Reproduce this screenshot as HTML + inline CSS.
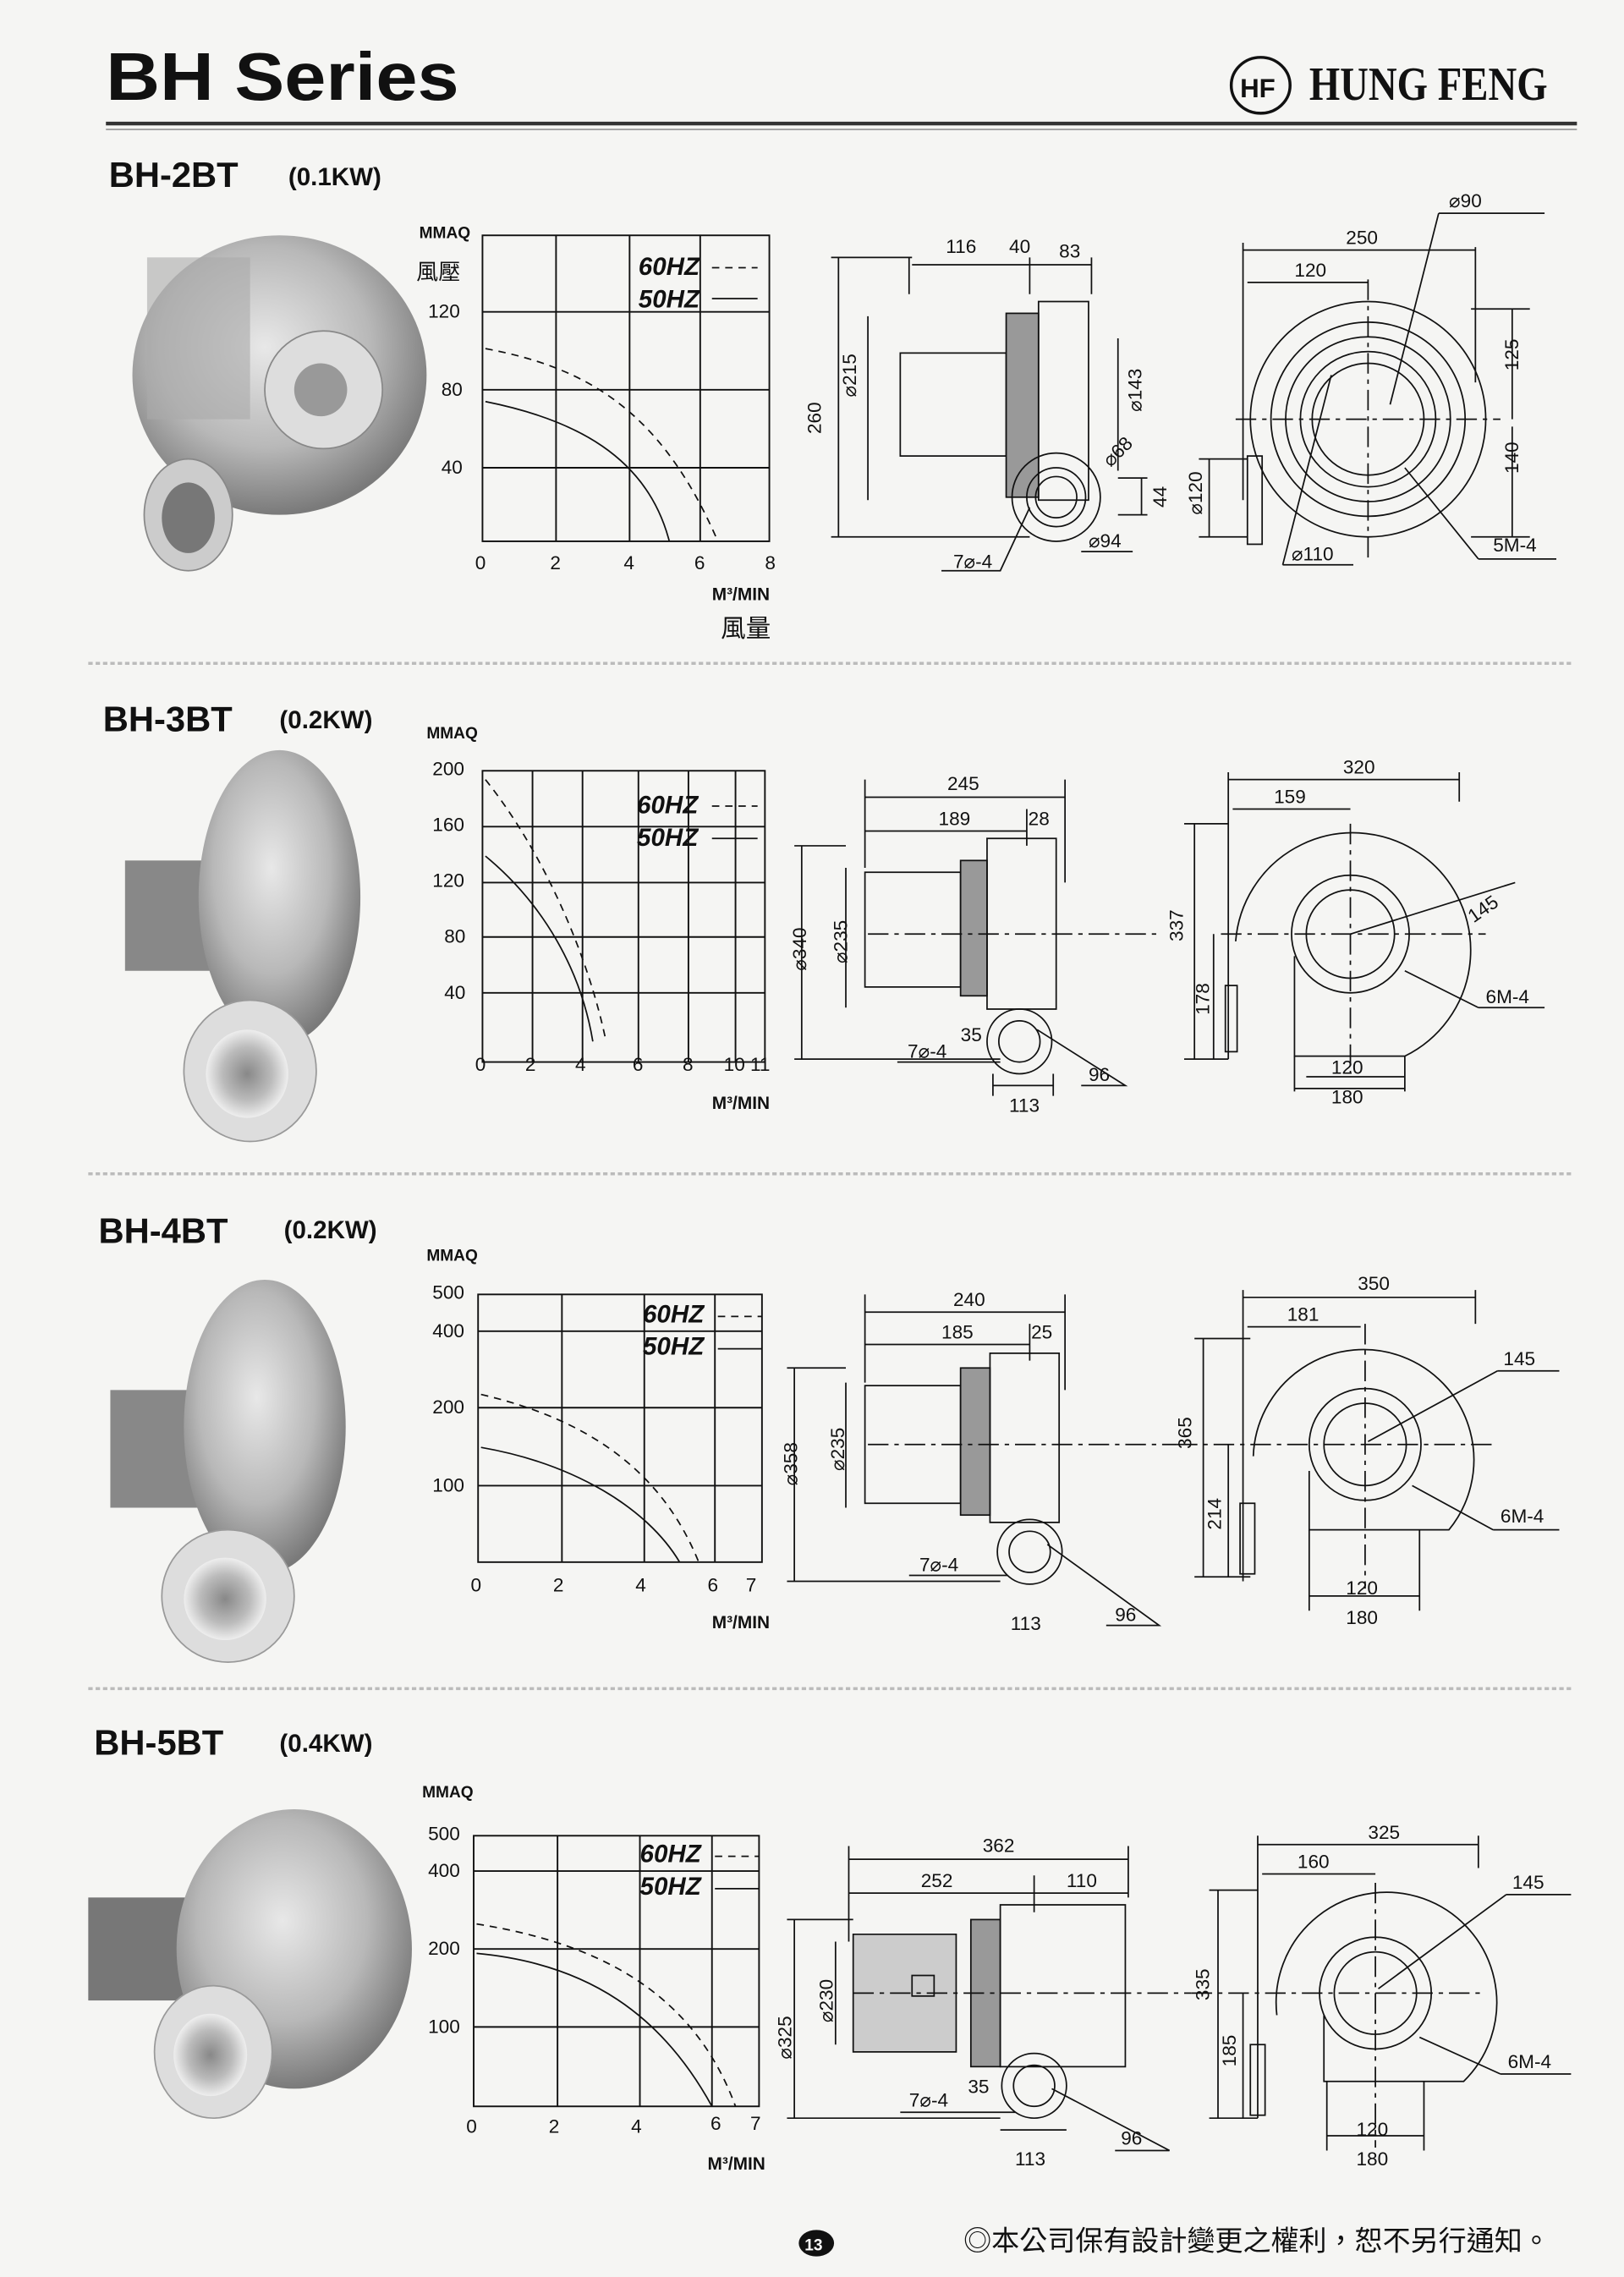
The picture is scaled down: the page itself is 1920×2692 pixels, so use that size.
<!DOCTYPE html>
<html><head><meta charset="utf-8"><style>
html,body{margin:0;padding:0;background:#f5f5f3;}
svg{display:block}
text{font-family:"Liberation Sans","Noto Sans CJK TC",sans-serif;fill:#111}
.t{font-size:13px}
.d{stroke:#111;stroke-width:1;fill:none}
.g{stroke:#111;stroke-width:1.1;fill:none}
.dash{stroke:#111;stroke-width:1;stroke-dasharray:5 4;fill:none}
.c{stroke:#111;stroke-width:1;stroke-dasharray:14 4 3 4;fill:none}
</style></head><body>
<svg width="1920" height="2692" viewBox="0 0 1104 1548" preserveAspectRatio="none" xmlns="http://www.w3.org/2000/svg">
<defs>
<radialGradient id="ph" cx="45%" cy="40%" r="60%"><stop offset="0" stop-color="#e8e8e8"/><stop offset=".6" stop-color="#b8b8b8"/><stop offset="1" stop-color="#7a7a7a"/></radialGradient>
<radialGradient id="ph2" cx="50%" cy="50%" r="50%"><stop offset="0" stop-color="#888"/><stop offset=".6" stop-color="#bbb"/><stop offset="1" stop-color="#eee"/></radialGradient>
</defs>
<rect width="1104" height="1548" fill="#f5f5f3"/>
<!-- header -->
<text x="72" y="68" textLength="240" lengthAdjust="spacingAndGlyphs" style="font-size:46px;font-weight:bold">BH Series</text>
<ellipse cx="857" cy="58" rx="20" ry="19" fill="none" stroke="#111" stroke-width="2"/>
<text x="843" y="66" style="font-size:18px;font-weight:bold">HF</text>
<text x="890" y="68" textLength="162" lengthAdjust="spacingAndGlyphs" style="font-size:32px;font-weight:bold;font-family:'Liberation Serif',serif">HUNG FENG</text>
<line x1="72" y1="84" x2="1072" y2="84" stroke="#333" stroke-width="2.5"/>
<line x1="72" y1="88" x2="1072" y2="88" stroke="#999" stroke-width="1"/>
<line x1="60" y1="451" x2="1068" y2="451" stroke="#bbb" stroke-width="2" stroke-dasharray="3 2"/>
<line x1="60" y1="798" x2="1068" y2="798" stroke="#bbb" stroke-width="2" stroke-dasharray="3 2"/>
<line x1="60" y1="1148" x2="1068" y2="1148" stroke="#bbb" stroke-width="2" stroke-dasharray="3 2"/>

<!-- Section titles -->
<text x="74" y="127" style="font-size:24px;font-weight:bold">BH-2BT</text><text x="196" y="126" style="font-size:17px;font-weight:bold">(0.1KW)</text>
<text x="70" y="497" style="font-size:24px;font-weight:bold">BH-3BT</text><text x="190" y="495" style="font-size:17px;font-weight:bold">(0.2KW)</text>
<text x="67" y="845" style="font-size:24px;font-weight:bold">BH-4BT</text><text x="193" y="842" style="font-size:17px;font-weight:bold">(0.2KW)</text>
<text x="64" y="1193" style="font-size:24px;font-weight:bold">BH-5BT</text><text x="190" y="1191" style="font-size:17px;font-weight:bold">(0.4KW)</text>

<!-- Photos -->
<g>
<ellipse cx="190" cy="255" rx="100" ry="95" fill="url(#ph)"/>
<rect x="100" y="175" width="70" height="110" fill="#aaa" opacity=".6"/>
<circle cx="220" cy="265" r="40" fill="#ddd" stroke="#888"/><circle cx="218" cy="265" r="18" fill="#999"/>
<ellipse cx="128" cy="350" rx="30" ry="38" fill="#ccc" stroke="#888"/><ellipse cx="128" cy="352" rx="18" ry="24" fill="#777"/>
</g>
<g>
<rect x="85" y="585" width="70" height="75" fill="#888"/>
<ellipse cx="190" cy="610" rx="55" ry="100" fill="url(#ph)"/>
<ellipse cx="170" cy="728" rx="45" ry="48" fill="#ddd" stroke="#999"/><ellipse cx="168" cy="730" rx="28" ry="30" fill="url(#ph2)"/>
</g>
<g>
<rect x="75" y="945" width="70" height="80" fill="#888"/>
<ellipse cx="180" cy="970" rx="55" ry="100" fill="url(#ph)"/>
<ellipse cx="155" cy="1085" rx="45" ry="45" fill="#ddd" stroke="#999"/><ellipse cx="153" cy="1087" rx="28" ry="28" fill="url(#ph2)"/>
</g>
<g>
<rect x="60" y="1290" width="80" height="70" fill="#777"/>
<ellipse cx="200" cy="1325" rx="80" ry="95" fill="url(#ph)"/>
<ellipse cx="145" cy="1395" rx="40" ry="45" fill="#ddd" stroke="#999"/><ellipse cx="143" cy="1397" rx="25" ry="28" fill="url(#ph2)"/>
</g>

<!-- Chart 1 -->
<g class="t">
<text x="285" y="162" style="font-size:11px;font-weight:bold">MMAQ</text>
<text x="283" y="190" style="font-size:15px">風壓</text>
<rect x="328" y="160" width="195" height="208" class="g"/>
<path d="M378 160V368M428 160V368M476 160V368M328 212H523M328 265H523M328 318H523" class="g"/>
<text x="291" y="216">120</text><text x="300" y="269">80</text><text x="300" y="322">40</text>
<text x="323" y="387">0</text><text x="374" y="387">2</text><text x="424" y="387">4</text><text x="472" y="387">6</text><text x="520" y="387">8</text>
<text x="484" y="408" style="font-size:12px;font-weight:bold">M³/MIN</text>
<text x="490" y="433" style="font-size:17px">風量</text>
<text x="434" y="187" style="font-size:17px;font-style:italic;font-weight:bold">60HZ</text><line x1="484" y1="182" x2="515" y2="182" class="dash"/>
<text x="434" y="209" style="font-size:17px;font-style:italic;font-weight:bold">50HZ</text><line x1="484" y1="203" x2="515" y2="203" class="d"/>
<path d="M330 237 C400 250 450 280 488 368" class="dash"/>
<path d="M330 273 C390 285 440 310 455 368" class="d"/>
</g>
<!-- Chart 2 -->
<g class="t">
<text x="290" y="502" style="font-size:11px;font-weight:bold">MMAQ</text>
<rect x="328" y="524" width="192" height="198" class="g"/>
<path d="M362 524V722M396 524V722M434 524V722M468 524V722M500 524V722M328 562H520M328 600H520M328 637H520M328 675H520" class="g"/>
<text x="294" y="527">200</text><text x="294" y="565">160</text><text x="294" y="603">120</text><text x="302" y="641">80</text><text x="302" y="679">40</text>
<text x="323" y="728">0</text><text x="357" y="728">2</text><text x="391" y="728">4</text><text x="430" y="728">6</text><text x="464" y="728">8</text><text x="492" y="728">10 11</text>
<text x="484" y="754" style="font-size:12px;font-weight:bold">M³/MIN</text>
<text x="433" y="553" style="font-size:17px;font-style:italic;font-weight:bold">60HZ</text><line x1="484" y1="548" x2="515" y2="548" class="dash"/>
<text x="433" y="575" style="font-size:17px;font-style:italic;font-weight:bold">50HZ</text><line x1="484" y1="570" x2="515" y2="570" class="d"/>
<path d="M330 530 C370 580 400 650 412 708" class="dash"/>
<path d="M330 582 C370 615 395 660 403 708" class="d"/>
</g>
<!-- Chart 3 -->
<g class="t">
<text x="290" y="857" style="font-size:11px;font-weight:bold">MMAQ</text>
<rect x="325" y="880" width="193" height="182" class="g"/>
<path d="M382 880V1062M438 880V1062M486 880V1062M325 905H518M325 957H518M325 1010H518" class="g"/>
<text x="294" y="883">500</text><text x="294" y="909">400</text><text x="294" y="961">200</text><text x="294" y="1014">100</text>
<text x="320" y="1082">0</text><text x="376" y="1082">2</text><text x="432" y="1082">4</text><text x="481" y="1082">6</text><text x="507" y="1082">7</text>
<text x="484" y="1107" style="font-size:12px;font-weight:bold">M³/MIN</text>
<text x="437" y="899" style="font-size:17px;font-style:italic;font-weight:bold">60HZ</text><line x1="488" y1="895" x2="518" y2="895" class="dash"/>
<text x="437" y="921" style="font-size:17px;font-style:italic;font-weight:bold">50HZ</text><line x1="488" y1="917" x2="518" y2="917" class="d"/>
<path d="M327 948 C400 965 450 1000 475 1062" class="dash"/>
<path d="M327 984 C390 995 440 1025 462 1062" class="d"/>
</g>
<!-- Chart 4 -->
<g class="t">
<text x="287" y="1222" style="font-size:11px;font-weight:bold">MMAQ</text>
<rect x="322" y="1248" width="194" height="184" class="g"/>
<path d="M379 1248V1432M435 1248V1432M484 1248V1432M322 1272H516M322 1325H516M322 1378H516" class="g"/>
<text x="291" y="1251">500</text><text x="291" y="1276">400</text><text x="291" y="1329">200</text><text x="291" y="1382">100</text>
<text x="317" y="1450">0</text><text x="373" y="1450">2</text><text x="429" y="1450">4</text><text x="483" y="1448">6</text><text x="510" y="1448">7</text>
<text x="481" y="1475" style="font-size:12px;font-weight:bold">M³/MIN</text>
<text x="435" y="1266" style="font-size:17px;font-style:italic;font-weight:bold">60HZ</text><line x1="486" y1="1262" x2="516" y2="1262" class="dash"/>
<text x="435" y="1288" style="font-size:17px;font-style:italic;font-weight:bold">50HZ</text><line x1="486" y1="1284" x2="516" y2="1284" class="d"/>
<path d="M324 1308 C400 1320 470 1350 500 1432" class="dash"/>
<path d="M324 1328 C400 1335 450 1370 484 1432" class="d"/>
</g>

<!-- Side drawings -->
<g class="t">
<path d="M565 175H620M565 365H700M618 175V200M700 175V200M742 175V200" class="d"/>
<path d="M620 180H700M700 180H742M704 180H742" class="d"/>
<text x="643" y="172">116</text><text x="686" y="172">40</text><text x="720" y="175">83</text>
<path d="M570 175V365" class="d"/><text x="558" y="295" transform="rotate(-90 558 295)">260</text>
<path d="M590 215V340" class="d"/><text x="582" y="270" transform="rotate(-90 582 270)">⌀215</text>
<rect x="612" y="240" width="72" height="70" class="d"/>
<rect x="684" y="213" width="22" height="125" fill="#999" stroke="#111"/>
<path d="M706 205H740V340H706Z" class="d"/>
<circle cx="718" cy="338" r="30" class="d"/><circle cx="718" cy="338" r="20" class="d"/><circle cx="718" cy="338" r="14" class="d"/>
<path d="M760 230V320M760 325H780M760 350H780M776 325V350" class="d"/>
<text x="776" y="280" transform="rotate(-90 776 280)">⌀143</text>
<text x="755" y="318" transform="rotate(-45 755 318)">⌀68</text>
<text x="793" y="345" transform="rotate(-90 793 345)">44</text>
<text x="740" y="372">⌀94</text><path d="M735 375H770" class="d"/>
<text x="648" y="386">7⌀-4</text><path d="M640 388H680L700 345" class="d"/>
<text x="985" y="141">⌀90</text><path d="M978 145H1050M978 145L945 275" class="d"/>
<text x="915" y="166">250</text><path d="M845 170H1003M845 165V340M1003 168V260" class="d"/>
<text x="880" y="188">120</text><path d="M848 192H930" class="d"/>
<circle cx="930" cy="285" r="80" class="d"/><circle cx="930" cy="285" r="66" class="d"/><circle cx="930" cy="285" r="56" class="d"/><circle cx="930" cy="285" r="46" class="d"/><circle cx="930" cy="285" r="38" class="d"/>
<path d="M840 285H1020M930 190V380" class="c"/>
<path d="M1028 210V285M1028 290V365M1000 210H1040M1000 365H1040" class="d"/>
<text x="1032" y="252" transform="rotate(-90 1032 252)">125</text><text x="1032" y="322" transform="rotate(-90 1032 322)">140</text>
<rect x="848" y="310" width="10" height="60" class="d"/><path d="M822 312V365M815 312H848M815 365H848" class="d"/>
<text x="817" y="350" transform="rotate(-90 817 350)">⌀120</text>
<text x="878" y="381">⌀110</text><path d="M872 384H920M872 384L905 255" class="d"/>
<text x="1015" y="375">5M-4</text><path d="M1005 380H1058M1005 380L955 318" class="d"/>

<text x="644" y="537">245</text><path d="M588 542H724M588 530V590M724 530V600" class="d"/>
<text x="638" y="561">189</text><path d="M588 565H698M698 550V575" class="d"/><text x="699" y="561">28</text>
<path d="M545 575V720M540 575H575M540 720H680" class="d"/><text x="548" y="660" transform="rotate(-90 548 660)">⌀340</text>
<path d="M575 590V685" class="d"/><text x="576" y="655" transform="rotate(-90 576 655)">⌀235</text>
<rect x="588" y="593" width="65" height="78" class="d"/><rect x="653" y="585" width="18" height="92" fill="#999" stroke="#111"/>
<path d="M671 570H718V686H671Z" class="d"/>
<path d="M590 635H790" class="c"/>
<circle cx="693" cy="708" r="22" class="d"/><circle cx="693" cy="708" r="14" class="d"/>
<text x="653" y="708">35</text><text x="617" y="719">7⌀-4</text><path d="M610 722H680" class="d"/>
<path d="M675 738H716M675 730V745M716 730V745" class="d"/><text x="686" y="756">113</text>
<text x="740" y="735">96</text><path d="M735 738H765L705 700" class="d"/>
<text x="913" y="526">320</text><path d="M835 530H992M835 525V720M992 525V545" class="d"/>
<text x="866" y="546">159</text><path d="M838 550H918" class="d"/>
<path d="M840 640 A80 80 0 1 1 955 718 H880 V650" class="d"/>
<circle cx="918" cy="635" r="40" class="d"/><circle cx="918" cy="635" r="30" class="d"/>
<path d="M830 635H1010M918 560V730" class="c"/>
<path d="M812 560V720M805 560H835M805 720H835M825 635V720" class="d"/>
<text x="804" y="640" transform="rotate(-90 804 640)">337</text><text x="822" y="690" transform="rotate(-90 822 690)">178</text>
<rect x="833" y="670" width="8" height="45" class="d"/>
<text x="1000" y="622" transform="rotate(-35 1010 622)">145</text><path d="M918 635L1030 600" class="d"/>
<text x="1010" y="682">6M-4</text><path d="M1005 685H1050M1005 685L955 660" class="d"/>
<path d="M880 718V742M955 718V742M888 732H955M880 740H955" class="d"/>
<text x="905" y="730">120</text><text x="905" y="750">180</text>

<text x="648" y="888">240</text><path d="M588 892H724M588 880V940M724 880V945" class="d"/>
<text x="640" y="910">185</text><path d="M588 914H700M700 900V925" class="d"/><text x="701" y="910">25</text>
<path d="M540 930V1075M535 930H575M535 1075H680" class="d"/><text x="542" y="1010" transform="rotate(-90 542 1010)">⌀358</text>
<path d="M575 940V1025" class="d"/><text x="574" y="1000" transform="rotate(-90 574 1000)">⌀235</text>
<rect x="588" y="942" width="65" height="80" class="d"/><rect x="653" y="930" width="20" height="100" fill="#999" stroke="#111"/>
<path d="M673 920H720V1035H673Z" class="d"/>
<path d="M590 982H800" class="c"/>
<circle cx="700" cy="1055" r="22" class="d"/><circle cx="700" cy="1055" r="14" class="d"/>
<text x="625" y="1068">7⌀-4</text><path d="M618 1071H685" class="d"/>
<text x="687" y="1108">113</text><text x="758" y="1102">96</text><path d="M752 1105H788L712 1050" class="d"/>
<text x="923" y="877">350</text><path d="M845 882H1003M845 877V1075M1003 877V900" class="d"/>
<text x="875" y="898">181</text><path d="M848 902H925" class="d"/>
<path d="M852 990 A75 75 0 1 1 985 1040 H890 V1000" class="d"/>
<circle cx="928" cy="982" r="38" class="d"/><circle cx="928" cy="982" r="28" class="d"/>
<path d="M800 982H1015M928 900V1080" class="c"/>
<path d="M818 910V1072M812 910H850M812 1072H850M835 982V1072" class="d"/>
<text x="810" y="985" transform="rotate(-90 810 985)">365</text><text x="830" y="1040" transform="rotate(-90 830 1040)">214</text>
<rect x="843" y="1022" width="10" height="48" class="d"/>
<text x="1022" y="928">145</text><path d="M1018 932H1060M1018 932L930 980" class="d"/>
<text x="1020" y="1035">6M-4</text><path d="M1015 1040H1060M1015 1040L960 1010" class="d"/>
<path d="M890 1040V1095M965 1040V1095M890 1085H965" class="d"/>
<text x="915" y="1084">120</text><text x="915" y="1104">180</text>

<text x="668" y="1259">362</text><path d="M577 1264H767M577 1255V1320M767 1255V1290" class="d"/>
<text x="626" y="1283">252</text><text x="725" y="1283">110</text><path d="M577 1287H767M703 1275V1300" class="d"/>
<path d="M540 1305V1440M535 1305H580M535 1440H680" class="d"/><text x="538" y="1400" transform="rotate(-90 538 1400)">⌀325</text>
<path d="M568 1320V1390" class="d"/><text x="566" y="1375" transform="rotate(-90 566 1375)">⌀230</text>
<path d="M580 1315H650V1395H580Z" fill="#ccc" stroke="#111"/>
<rect x="620" y="1343" width="15" height="14" class="d"/>
<rect x="660" y="1305" width="20" height="100" fill="#999" stroke="#111"/>
<path d="M680 1295H765V1405H680Z" class="d"/>
<path d="M580 1355H810" class="c"/>
<circle cx="703" cy="1418" r="22" class="d"/><circle cx="703" cy="1418" r="14" class="d"/>
<text x="658" y="1423">35</text><text x="618" y="1432">7⌀-4</text><path d="M612 1436H690" class="d"/>
<path d="M680 1448H725" class="d"/><text x="690" y="1472">113</text>
<text x="762" y="1458">96</text><path d="M758 1462H795L715 1420" class="d"/>
<text x="930" y="1250">325</text><path d="M855 1254H1005M855 1248V1440M1005 1248V1270" class="d"/>
<text x="882" y="1270">160</text><path d="M858 1274H935" class="d"/>
<path d="M868 1370 A75 75 0 1 1 995 1415 H900 V1370" class="d"/>
<circle cx="935" cy="1355" r="38" class="d"/><circle cx="935" cy="1355" r="28" class="d"/>
<path d="M810 1355H1010M935 1280V1460" class="c"/>
<path d="M828 1285V1440M822 1285H855M822 1440H855M845 1355V1440" class="d"/>
<text x="822" y="1360" transform="rotate(-90 822 1360)">335</text><text x="840" y="1405" transform="rotate(-90 840 1405)">185</text>
<rect x="850" y="1390" width="10" height="48" class="d"/>
<text x="1028" y="1284">145</text><path d="M1024 1288H1068M1024 1288L937 1352" class="d"/>
<text x="1025" y="1406">6M-4</text><path d="M1020 1410H1068M1020 1410L965 1385" class="d"/>
<path d="M902 1415V1462M968 1415V1462M902 1452H968" class="d"/>
<text x="922" y="1452">120</text><text x="922" y="1472">180</text>
</g>

<ellipse cx="555" cy="1525" rx="12" ry="9" fill="#111"/><text x="547" y="1530" style="font-size:11px;fill:#fff;font-weight:bold">13</text>
<text x="655" y="1530" style="font-size:19px">◎本公司保有設計變更之權利，恕不另行通知。</text>
</svg>
</body></html>
